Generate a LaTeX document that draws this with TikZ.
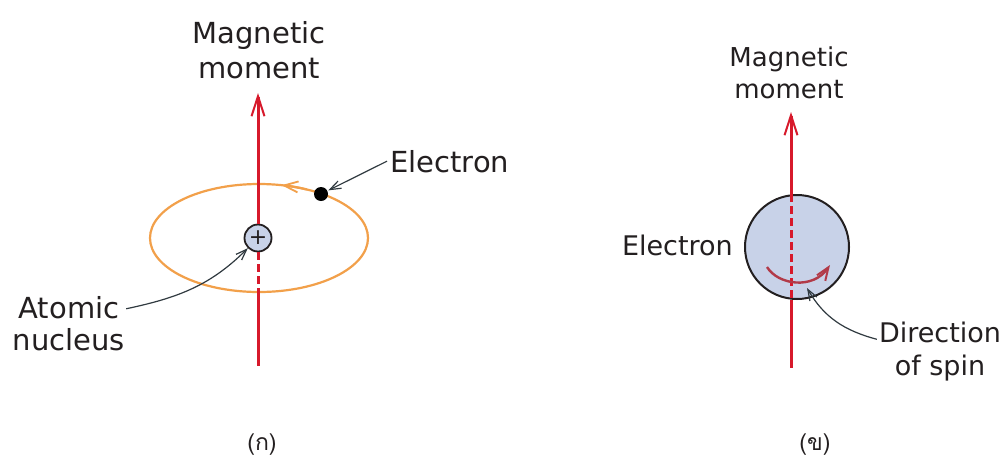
\documentclass[tikz,border=0pt]{standalone}
\usepackage{fontspec}
\setmainfont{DejaVu Sans}
\newfontfamily\thaifont[Script=Thai]{Loma}
\usetikzlibrary{arrows.meta}

\definecolor{axisred}{HTML}{D7192B}
\definecolor{orbitorange}{HTML}{F2A04A}
\definecolor{bodyblue}{HTML}{C8D2E8}
\definecolor{spinred}{HTML}{B23A48}
\definecolor{inkgray}{HTML}{231F20}
\definecolor{ptrgray}{HTML}{303A40}

\tikzset{
  lbl/.style={text=inkgray, inner sep=0pt, align=center},
  axisline/.style={draw=axisred, line width=3pt},
  axistip/.style={-{Straight Barb[length=20pt,width=13pt,line width=2pt]}},
  axisdash/.style={axisline, dash pattern=on 8pt off 4pt},
  orbit/.style={draw=orbitorange, line width=2.2pt},
  nucleus/.style={circle, draw=inkgray, line width=1.8pt, fill=bodyblue,
    minimum size=27pt, inner sep=0pt, text=inkgray,
    font=\fontsize{22}{22}\selectfont},
  electrondot/.style={circle, fill=black, minimum size=14pt, inner sep=0pt},
  sphere/.style={circle, draw=inkgray, line width=2pt, fill=bodyblue,
    minimum size=104pt, inner sep=0pt},
  ptr/.style={draw=ptrgray, line width=1.2pt,
    -{Straight Barb[length=11pt,width=8pt,line width=1.2pt]}},
  spin/.style={draw=spinred, line width=2.4pt,
    -{Straight Barb[length=13pt,width=10pt,line width=2pt]}},
  caption/.style={text=inkgray, inner sep=0pt,
    font=\thaifont\fontsize{23}{26}\selectfont}
}

\begin{document}
\begin{tikzpicture}[x=1pt,y=-1pt]
\useasboundingbox[fill=white] (0,0) rectangle (1006,461);

% ---------- (a) orbital moment ----------
\node[lbl, font=\fontsize{29}{35}\selectfont, anchor=base] (mmA) at (259,78) {Magnetic\\moment};
\coordinate (tipA) at (258,93);

% electron orbit
\draw[orbit] (259,238) ellipse [x radius=109, y radius=54];
\draw[orbit, -{Straight Barb[length=14pt,width=11pt,line width=1.8pt]}]
  ([shift={(-64:109 and 54)}]259,238) arc[start angle=-64, end angle=-78, x radius=109, y radius=54];

\node[nucleus] (nuc) at (258,238) {+};
\coordinate (orbBot) at (258,292);
\coordinate (endA) at (258,366);

\draw[axisline, axistip] (nuc.north) -- (tipA);
\draw[axisdash] (nuc.south) -- (orbBot);
\draw[axisline] (orbBot) -- (endA);

\node[electrondot] (el) at (321,194) {};
\node[lbl, font=\fontsize{29}{35}\selectfont, anchor=base west] (elA) at (390,172) {Electron};
\draw[ptr, shorten >=1pt] ([xshift=-3pt]elA.west) -- (el);

\node[lbl, font=\fontsize{29}{32}\selectfont, anchor=base] (an) at (69,350) {Atomic\\nucleus};
\draw[ptr] ([xshift=1pt,yshift=-13pt]an.north east) to[out=12,in=225] (nuc);

% ---------- (b) spin moment ----------
\node[lbl, font=\fontsize{26}{32}\selectfont, anchor=base] (mmB) at (789,98) {Magnetic\\moment};
\coordinate (tipB) at (791,112);
\coordinate (endB) at (791,368);

\node[sphere] (sp) at (797,247) {};

\draw[axisline, axistip] (sp.north -| tipB) -- (tipB);
\draw[axisdash] (sp.north -| tipB) -- (sp.south -| tipB);
\draw[axisline] (sp.south -| tipB) -- (endB);

\coordinate (spinS) at (767,267);
\coordinate (spinE) at (830,265);
\draw[spin] (spinS) .. controls (778,285) and (813,290) .. (spinE);

\node[lbl, font=\fontsize{27}{32}\selectfont, anchor=base east] (elB) at (733,255) {Electron};

\node[lbl, font=\fontsize{27}{33}\selectfont, anchor=base] (dir) at (940,375) {Direction\\of spin};
\coordinate (spinTip) at (807,288);
\draw[ptr] ([xshift=-2pt,yshift=-18pt]dir.north west) to[out=165,in=-60] (spinTip);

% ---------- captions ----------
\node[caption, anchor=base] (capA) at (262,450) {(ก)};
\node[caption, anchor=base] (capB) at (815,450) {(ข)};
\end{tikzpicture}
\end{document}
